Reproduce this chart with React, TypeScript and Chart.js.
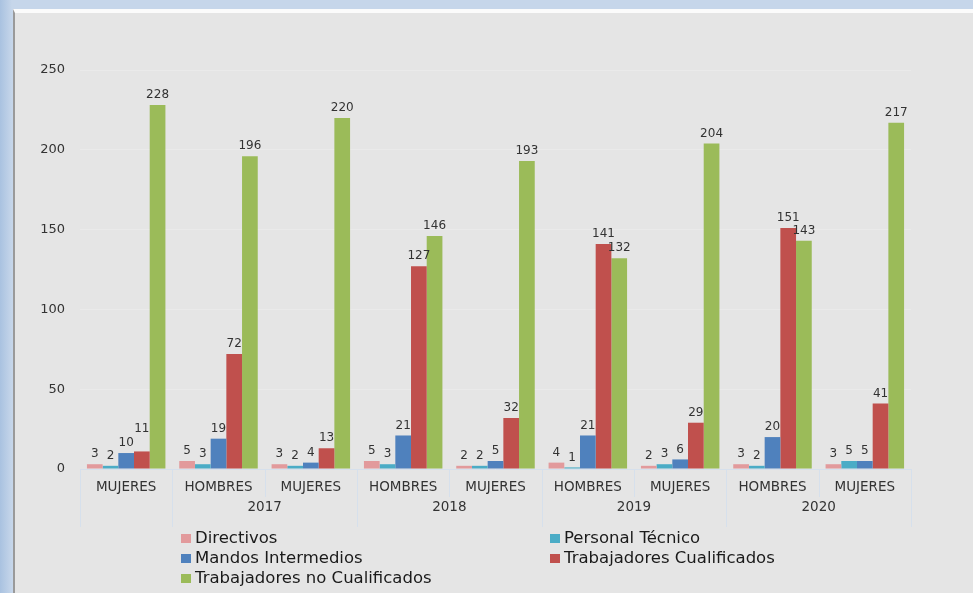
import React, { useEffect, useRef } from "react";
import { Chart, registerables } from "chart.js";

Chart.register(...registerables);

const categories = ["MUJERES", "HOMBRES", "MUJERES", "HOMBRES", "MUJERES", "HOMBRES", "MUJERES", "HOMBRES", "MUJERES"];
// year groups: [label, first category index, last category index]
const yearLabels = ["", "2017", "2018", "2019", "2020"];
const yearStart = [0, 1, 3, 5, 7];
const yearEnd = [0, 2, 4, 6, 8];

const seriesNames = ["Directivos", "Personal Técnico", "Mandos Intermedios", "Trabajadores Cualificados", "Trabajadores no Cualificados"];
const directivos = [3, 5, 3, 5, 2, 4, 2, 3, 3];
const personalTecnico = [2, 3, 2, 3, 2, 1, 3, 2, 5];
const mandosIntermedios = [10, 19, 4, 21, 5, 21, 6, 20, 5];
const trabCualificados = [11, 72, 13, 127, 32, 141, 29, 151, 41];
const trabNoCualificados = [228, 196, 220, 146, 193, 132, 204, 143, 217];
const seriesColors = ["#e29a9c", "#4bacc6", "#4f81bd", "#c0504d", "#9bbb59"];
const yTicks = [0, 50, 100, 150, 200, 250];

const FONT = "'DejaVu Sans', Verdana, sans-serif";
const SEP = "#d6e0ec";

const dataLabelPlugin = {
  id: "dataLabels",
  afterDatasetsDraw(chart: any) {
    const ctx = chart.ctx;
    ctx.save();
    ctx.font = `12px ${FONT}`;
    ctx.fillStyle = "#333333";
    ctx.textAlign = "center";
    ctx.textBaseline = "bottom";
    const n = chart.data.labels.length;
    for (let j = 0; j < n; j++) {
      const placed: { l: number; r: number; t: number; b: number }[] = [];
      chart.data.datasets.forEach((ds: any, i: number) => {
        const bar: any = chart.getDatasetMeta(i).data[j];
        const txt = String(ds.data[j]);
        const w = ctx.measureText(txt).width;
        let bottom = bar.y - 4;
        const l = bar.x - w / 2;
        const r = bar.x + w / 2;
        for (const p of placed) {
          const hOverlap = l < p.r + 4 && r > p.l - 4;
          const vOverlap = bottom > p.t && bottom - 12 < p.b;
          if (hOverlap && vOverlap) bottom = p.t - 2;
        }
        placed.push({ l, r, t: bottom - 12, b: bottom });
        ctx.fillText(txt, bar.x, bottom);
      });
    }
    ctx.restore();
  },
};

const axisDecorPlugin = {
  id: "axisDecor",
  afterDraw(chart: any) {
    const ctx = chart.ctx;
    const xs = chart.scales.x;
    const area = chart.chartArea;
    const n = categories.length;
    const w = (area.right - area.left) / n;
    ctx.save();
    ctx.strokeStyle = SEP;
    ctx.lineWidth = 1;
    // baseline
    ctx.beginPath();
    ctx.moveTo(area.left, area.bottom + 0.5);
    ctx.lineTo(area.right, area.bottom + 0.5);
    ctx.stroke();
    // separators
    for (let k = 0; k <= n; k++) {
      const x = Math.round(area.left + k * w) + 0.5;
      const isYear = yearStart.includes(k) || k === n;
      ctx.beginPath();
      ctx.moveTo(x, area.bottom);
      ctx.lineTo(x, area.bottom + (isYear ? 58 : 28));
      ctx.stroke();
    }
    // year labels
    ctx.font = `13.5px ${FONT}`;
    ctx.fillStyle = "#333333";
    ctx.textAlign = "center";
    ctx.textBaseline = "middle";
    yearLabels.forEach((lab, i) => {
      if (!lab) return;
      const x = (xs.getPixelForValue(yearStart[i]) + xs.getPixelForValue(yearEnd[i])) / 2;
      ctx.fillText(lab, x, area.bottom + 38);
    });
    // legend in two columns
    ctx.font = `16.5px ${FONT}`;
    ctx.textAlign = "left";
    const colX = [181, 550];
    const rowY = [538, 558, 578];
    seriesNames.forEach((name, i) => {
      const col = i % 2;
      const row = Math.floor(i / 2);
      const x = colX[col];
      const y = rowY[row];
      ctx.fillStyle = seriesColors[i];
      ctx.fillRect(x, y - 4, 10, 9);
      ctx.fillStyle = "#1a1a1a";
      ctx.fillText(name, x + 14, y + 1);
    });
    ctx.restore();
  },
};

export default function App() {
  const ref = useRef<HTMLCanvasElement>(null);
  useEffect(() => {
    if (!ref.current) return;
    const values = [directivos, personalTecnico, mandosIntermedios, trabCualificados, trabNoCualificados];
    const chart = new Chart(ref.current, {
      type: "bar",
      data: {
        labels: categories,
        datasets: seriesNames.map((name, i) => ({
          label: name,
          data: values[i],
          backgroundColor: seriesColors[i],
          borderWidth: 0,
          categoryPercentage: 0.85,
          barPercentage: 1,
        })),
      },
      options: {
        animation: false,
        responsive: false,
        maintainAspectRatio: false,
        layout: { padding: { left: 0, right: 62, top: 70, bottom: 0 } },
        plugins: { legend: { display: false }, tooltip: { enabled: false } },
        scales: {
          x: {
            grid: { display: false, drawTicks: false },
            border: { display: false },
            ticks: { color: "#333333", font: { family: FONT, size: 13.5 }, padding: 10, maxRotation: 0, autoSkip: false },
            afterFit: (s: any) => { s.height = 124; },
          },
          y: {
            min: 0,
            max: 250,
            afterBuildTicks: (s: any) => { s.ticks = yTicks.map((v) => ({ value: v })); },
            grid: { color: "#eaeaea", drawTicks: false, lineWidth: 1 },
            border: { display: false },
            ticks: { color: "#333333", font: { family: FONT, size: 13 }, padding: 15 },
            afterFit: (s: any) => { s.width = 80; },
          },
        },
      },
      plugins: [dataLabelPlugin, axisDecorPlugin],
    });
    return () => chart.destroy();
  }, []);

  return (
    <div style={{ position: "fixed", left: 0, top: 0, width: 973, height: 593, background: "#c6d6ea", overflow: "hidden" }}>
      <div style={{ position: "absolute", left: 0, top: 0, width: 12, height: 593, background: "linear-gradient(to right, #a9c2e0, #c6d6ea)" }} />
      <div style={{ position: "absolute", left: 13, top: 9, width: 960, height: 584, background: "#e5e5e5", borderTop: "4px solid #fbfbfb", borderLeft: "2px solid #9a9a9a", boxSizing: "border-box" }} />
      <canvas ref={ref} width={973} height={593} style={{ position: "absolute", left: 0, top: 0, width: 973, height: 593 }} />
    </div>
  );
}
